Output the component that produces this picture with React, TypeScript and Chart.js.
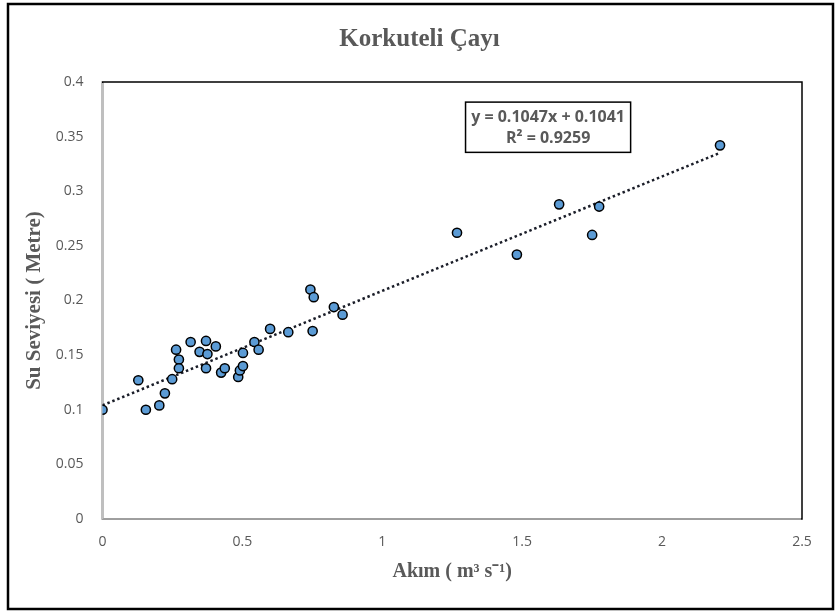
import React, { useEffect, useRef } from "react";
import { Chart, registerables } from "chart.js";

Chart.register(...registerables);

const TITLE = "Korkuteli Çayı";
const X_TITLE = "Akım ( m³ s⁻¹)";
const Y_TITLE = "Su Seviyesi ( Metre)";

const flowValues = [
  0.0, 0.128, 0.155, 0.203, 0.223, 0.249, 0.263, 0.273, 0.273, 0.315, 0.347, 0.37,
  0.375, 0.37, 0.405, 0.424, 0.437, 0.485, 0.491, 0.502, 0.502, 0.543, 0.558, 0.599,
  0.664, 0.743, 0.755, 0.751, 0.827, 0.858, 1.267, 1.481, 1.632, 1.75, 1.775, 2.207,
];
const levelValues = [
  0.1, 0.127, 0.1, 0.104, 0.115, 0.128, 0.155, 0.146, 0.138, 0.162, 0.153, 0.163,
  0.151, 0.138, 0.158, 0.134, 0.138, 0.13, 0.136, 0.14, 0.152, 0.162, 0.155, 0.174,
  0.171, 0.21, 0.203, 0.172, 0.194, 0.187, 0.262, 0.242, 0.288, 0.26, 0.286, 0.342,
];

const SLOPE = 0.1047;
const INTERCEPT = 0.1041;
const R2 = 0.9259;

const yTickLabels = ["0", "0.05", "0.1", "0.15", "0.2", "0.25", "0.3", "0.35", "0.4"];
const xTickLabels = ["0", "0.5", "1", "1.5", "2", "2.5"];

const GRAY = "#595959";

const framePlugin = {
  id: "frame",
  beforeDatasetsDraw(chart: any) {
    const { ctx, chartArea: a } = chart;
    ctx.save();
    ctx.strokeStyle = "#000";
    ctx.lineWidth = 1.5;
    ctx.strokeRect(a.left, a.top, a.right - a.left, a.bottom - a.top);
    ctx.strokeStyle = "#bfbfbf";
    ctx.lineWidth = 1.5;
    ctx.beginPath();
    ctx.moveTo(a.left, a.top + 1);
    ctx.lineTo(a.left, a.bottom);
    ctx.lineTo(a.right - 1, a.bottom);
    ctx.stroke();
    ctx.restore();
  },
  afterDraw(chart: any) {
    const { ctx, chartArea: a, width, height } = chart;
    ctx.save();
    ctx.strokeStyle = "#000";
    ctx.lineWidth = 2.5;
    ctx.strokeRect(8, 4, width - 14, height - 9);
    ctx.fillStyle = GRAY;
    ctx.font = "bold 25px 'Liberation Serif'";
    ctx.textAlign = "center";
    ctx.textBaseline = "middle";
    ctx.fillText(TITLE, width / 2, 40);
    const w = a.right - a.left;
    const h = a.bottom - a.top;
    const bx = a.left + w * 0.519;
    const by = a.top + h * 0.046;
    const bw = w * 0.236;
    const bh = h * 0.115;
    ctx.fillStyle = "#fff";
    ctx.fillRect(bx, by, bw, bh);
    ctx.strokeStyle = "#000";
    ctx.lineWidth = 1.5;
    ctx.strokeRect(bx, by, bw, bh);
    ctx.fillStyle = GRAY;
    ctx.font = "bold 16px 'Open Sans'";
    const cx = bx + bw / 2;
    ctx.fillText(`y = ${SLOPE}x + ${INTERCEPT}`, cx, by + bh * 0.3);
    ctx.fillText(`R² = ${R2}`, cx, by + bh * 0.72);
    ctx.restore();
  },
};

export default function App() {
  const ref = useRef<HTMLCanvasElement | null>(null);
  useEffect(() => {
    document.body.style.margin = "0";
    const points = flowValues.map((x, i) => ({ x, y: levelValues[i] }));
    const xMax = Math.max(...flowValues);
    const trend = [
      { x: 0, y: INTERCEPT },
      { x: xMax, y: SLOPE * xMax + INTERCEPT },
    ];
    const chart = new Chart(ref.current as HTMLCanvasElement, {
      type: "scatter",
      data: {
        datasets: [
          {
            type: "line",
            data: trend,
            borderColor: "#1a1d28",
            borderWidth: 2.5,
            borderDash: [2.5, 2.8],
            pointRadius: 0,
            fill: false,
            order: 2,
          } as any,
          {
            data: points,
            backgroundColor: "#5B9BD5",
            borderColor: "#000",
            borderWidth: 1.5,
            pointRadius: 4.6,
            order: 1,
          },
        ],
      },
      options: {
        animation: false,
        responsive: false,
        layout: { padding: { left: 10, right: 37, top: 82, bottom: 25 } },
        plugins: {
          legend: { display: false },
          tooltip: { enabled: false },
          title: { display: false },
        },
        scales: {
          x: {
            type: "linear",
            min: 0,
            max: 2.5,
            grid: { display: false, drawTicks: false },
            border: { display: false },
            afterFit: (s: any) => {
              s.height = 70;
            },
            ticks: {
              stepSize: 0.5,
              padding: 15,
              color: GRAY,
              font: { family: "'Open Sans'", size: 14 },
              callback: (v: any) => xTickLabels[Math.round(Number(v) / 0.5)] ?? "",
            },
            title: {
              display: true,
              text: X_TITLE,
              color: GRAY,
              font: { family: "'Liberation Serif'", size: 20, weight: "bold" },
              padding: { top: 0, bottom: 5 },
            },
          },
          y: {
            type: "linear",
            min: 0,
            max: 0.4,
            grid: { display: false, drawTicks: false },
            border: { display: false },
            afterFit: (s: any) => {
              s.width = 92.5;
            },
            ticks: {
              stepSize: 0.05,
              padding: 19,
              color: GRAY,
              font: { family: "'Open Sans'", size: 14 },
              callback: (v: any) => yTickLabels[Math.round(Number(v) / 0.05)] ?? "",
            },
            title: {
              display: true,
              text: Y_TITLE,
              color: GRAY,
              font: { family: "'Liberation Serif'", size: 21, weight: "bold" },
              padding: { top: 12.4, bottom: 0 },
            },
          },
        },
      },
      plugins: [framePlugin],
    });
    return () => chart.destroy();
  }, []);
  return (
    <div style={{ position: "absolute", left: 0, top: 0, width: 839, height: 614 }}>
      <canvas ref={ref} width={839} height={614} />
    </div>
  );
}
